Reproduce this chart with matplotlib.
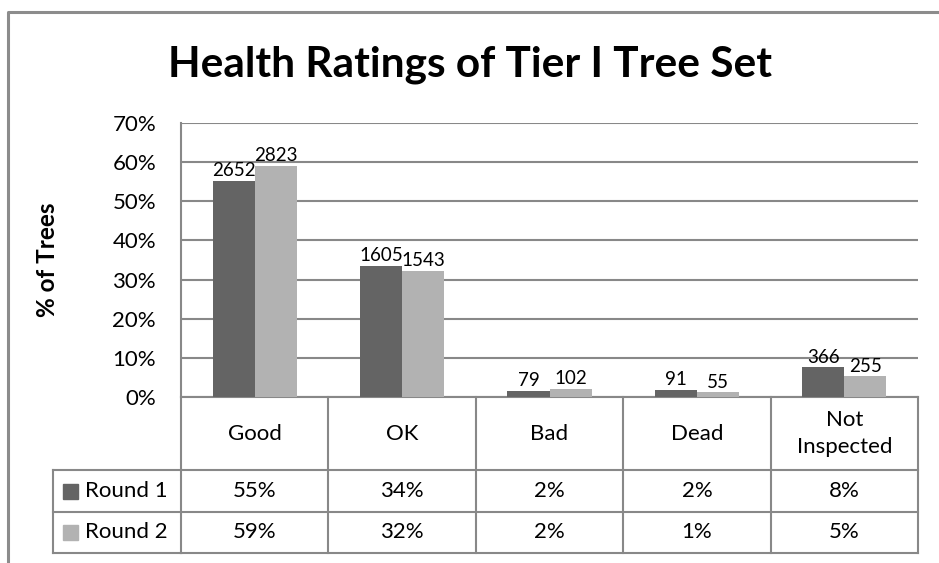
import numpy as np
import matplotlib
matplotlib.use("Agg")
import matplotlib.pyplot as plt
from matplotlib.lines import Line2D
from matplotlib.patches import Rectangle
from matplotlib.transforms import blended_transform_factory

plt.rcParams['font.family'] = ['Lato', 'DejaVu Sans']

categories = ["Good", "OK", "Bad", "Dead", "Not\nInspected"]
series = ["Round 1", "Round 2"]
counts_r1 = [2652, 1605, 79, 91, 366]
counts_r2 = [2823, 1543, 102, 55, 255]
pct_r1 = [55.3, 33.5, 1.6, 1.9, 7.6]
pct_r2 = [59.1, 32.3, 2.1, 1.2, 5.3]

dark = "#646464"
light = "#b2b2b2"
grid_c = "#888888"

W, H = 939, 563
fig = plt.figure(figsize=(W / 100, H / 100), dpi=100)

def fx(x):
	return x / W

def fy(y):
	return 1 - y / H

# plot area in pixel coords
left, right, top, bottom = 181, 918, 123, 397
ax = fig.add_axes([fx(left), fy(bottom), fx(right - left), (bottom - top) / H])

x = np.arange(len(categories))
w = 0.285
b1 = ax.bar(x - w / 2, pct_r1, w, color=dark, zorder=3)
b2 = ax.bar(x + w / 2, pct_r2, w, color=light, zorder=3)
ax.bar_label(b1, labels=[str(c) for c in counts_r1], padding=1, fontsize=13.5)
ax.bar_label(b2, labels=[str(c) for c in counts_r2], padding=1, fontsize=13.5)

ax.set_xlim(-0.5, len(categories) - 0.5)
ax.set_ylim(0, 70)
ax.set_yticks(np.arange(0, 71, 10))
ax.set_yticklabels([f"{v}%" for v in range(0, 71, 10)], fontsize=16)
ax.tick_params(axis='y', length=0, pad=18)
ax.set_xticks([])
ax.yaxis.grid(True, color=grid_c, linewidth=1.5, zorder=0)
for s in ["top", "right"]:
	ax.spines[s].set_visible(False)
for s in ["left", "bottom"]:
	ax.spines[s].set_color(grid_c)
	ax.spines[s].set_linewidth(1.5)
ax.set_ylabel("% of Trees", fontsize=17.5, fontweight='bold')
ax.yaxis.set_label_coords((59 - left) / (right - left), 0.5)

fig.text(fx(470), fy(77), "Health Ratings of Tier I Tree Set", fontsize=30.5,
		 fontweight='bold', ha='center', va='baseline')

# data table below the axis
tr = blended_transform_factory(ax.transData, fig.transFigure)
row_y = [397, 470, 512, 553]
lw = 1.5
for y in row_y[1:]:
	fig.add_artist(Line2D([-0.5, len(categories) - 0.5], [fy(y), fy(y)],
						  transform=tr, color=grid_c, linewidth=lw))
for i in range(len(categories) + 1):
	fig.add_artist(Line2D([i - 0.5, i - 0.5], [fy(row_y[0]), fy(row_y[-1])],
						  transform=tr, color=grid_c, linewidth=lw))
# legend cells on the left
lx = 53
for y in row_y[1:]:
	fig.add_artist(Line2D([fx(lx), fx(left)], [fy(y), fy(y)],
						  color=grid_c, linewidth=lw))
fig.add_artist(Line2D([fx(lx), fx(lx)], [fy(row_y[1]), fy(row_y[-1])],
					  color=grid_c, linewidth=lw))

for i, c in enumerate(categories):
	fig.text(i, fy((row_y[0] + row_y[1]) / 2), c, transform=tr, ha='center',
			 va='center', fontsize=16, linespacing=1.45)

for r, (name, vals, col) in enumerate(zip(series, [pct_r1, pct_r2], [dark, light])):
	yc = (row_y[r + 1] + row_y[r + 2]) / 2
	fig.add_artist(Rectangle((fx(63), fy(yc + 7.5)), fx(15), 15 / H,
							 color=col, transform=fig.transFigure))
	fig.text(fx(85), fy(yc), name, ha='left', va='center', fontsize=16)
	for i, v in enumerate(vals):
		fig.text(i, fy(yc), f"{v:.0f}%", transform=tr, ha='center',
				 va='center', fontsize=16)

# outer chart border
fig.add_artist(Line2D([fx(8), fx(8), fx(W + 5)], [fy(H + 5), fy(12), fy(12)],
					  color="#8c8c8c", linewidth=2.2))

fig.savefig("out.png", dpi=100)
